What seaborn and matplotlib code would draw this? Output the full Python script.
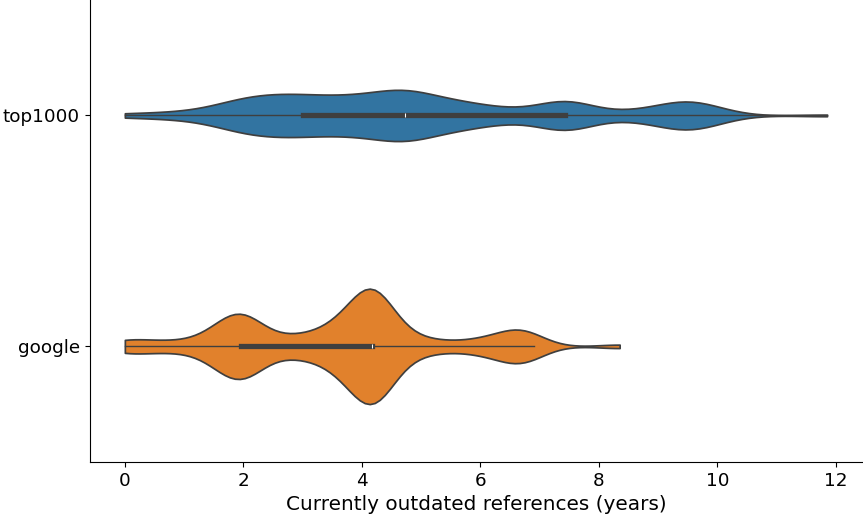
import numpy as np
import pandas as pd
import matplotlib
matplotlib.use("Agg")
import matplotlib.pyplot as plt
from matplotlib.collections import PolyCollection
import seaborn as sns

# outdated references (years): observed values and how often each one occurs
top1000_years = [0.0, 0.8, 1.5, 2.0, 2.5, 3.0, 3.5, 4.0, 4.5, 4.72, 5.2, 5.7,
                 6.2, 6.7, 7.42, 8.0, 8.6, 9.1, 9.55, 10.0, 11.85]
top1000_counts = [2, 3, 5, 11, 12, 12, 10, 12, 8, 14, 10, 8,
                  5, 3, 16, 2, 3, 5, 12, 3, 1]

google_years = [0.0, 0.5, 1.0, 1.5, 1.8, 1.96, 2.2, 2.6, 3.0, 3.5, 3.8, 4.17,
                4.5, 4.9, 5.4, 6.0, 6.5, 6.7, 6.9, 8.35]
google_counts = [3, 2, 2, 4, 5, 9, 4, 2, 4, 6, 6, 26,
                 4, 3, 2, 3, 4, 4, 2, 1]

sources = ["top1000", "google"]


def create_plot():
    df = pd.concat([
        pd.DataFrame({"years": np.repeat(top1000_years, top1000_counts), "source": sources[0]}),
        pd.DataFrame({"years": np.repeat(google_years, google_counts), "source": sources[1]}),
    ], ignore_index=True)

    fig = plt.figure(figsize=(8.63, 5.16), dpi=100)
    ax = fig.add_axes([0.104, 0.105, 0.895, 0.895])
    # no hue, so both violins share one normalisation
    sns.violinplot(data=df, x="years", y="source", order=sources,
                   cut=0, width=0.5, bw_adjust=0.5, common_norm=True,
                   inner="box", inner_kws=dict(box_width=3.8, whis_width=1.0),
                   ax=ax)

    # one colour per source, desaturated like seaborn does
    colors = sns.color_palette(n_colors=2, desat=0.75)
    bodies = [c for c in ax.collections if isinstance(c, PolyCollection)]
    for body, col in zip(bodies, colors):
        body.set_facecolor(col)

    sns.despine(ax=ax)
    ax.set_xlabel("Currently outdated references (years)", fontsize=14.4)
    ax.set_ylabel("")
    ax.tick_params(labelsize=13.2)
    fig.savefig("out.png", dpi=100)
    plt.close(fig)


if __name__ == "__main__":
    create_plot()
